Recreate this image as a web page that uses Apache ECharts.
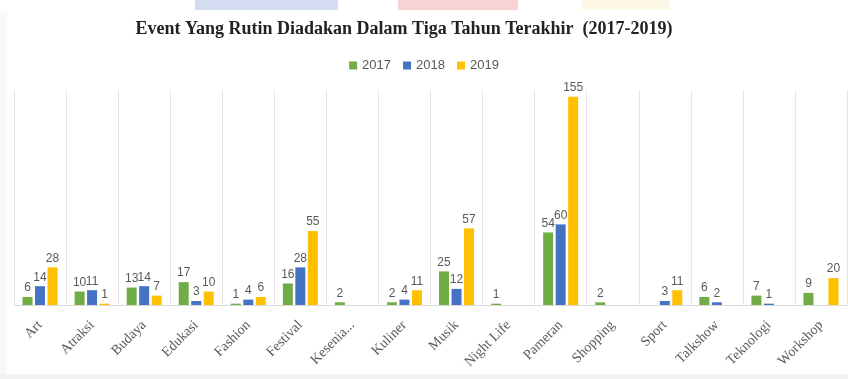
<!DOCTYPE html>
<html>
<head>
<meta charset="utf-8">
<script src="https://cdn.jsdelivr.net/npm/echarts@6/dist/echarts.min.js"></script>
<style>html,body{margin:0;padding:0;background:#fff;}#c{width:848px;height:379px;}</style>
</head>
<body>
<div id="c"></div>
<script>
var categories = ["Art","Atraksi","Budaya","Edukasi","Fashion","Festival","Kesenia...","Kuliner","Musik","Night Life","Pameran","Shopping","Sport","Talkshow","Teknologi","Workshop"];
var s2017 = [6,10,13,17,1,16,2,2,25,1,54,2,null,6,7,9];
var s2018 = [14,11,14,3,4,28,null,4,12,null,60,null,3,2,1,null];
var s2019 = [28,1,7,10,6,55,null,11,57,null,155,null,11,null,null,20];
var seriesNames = ["2017","2018","2019"];
var colors = ["#70AD47","#4472C4","#FFC000"];

var chart = echarts.init(document.getElementById('c'), null, {renderer:'canvas'});
var lbl = {show:true, position:'top', distance:3, color:'#595959', fontFamily:'Liberation Sans', fontSize:12};
function mk(name, data, col){
  return {name:name, type:'bar', data:data, barWidth:10, barGap:'25%',
    itemStyle:{color:col}, label:lbl};
}
chart.setOption({
  backgroundColor:'#ffffff',
  animation:false,
  graphic:[
    {type:'rect', shape:{x:195,y:0,width:143,height:10}, style:{fill:'#d3dcf0'}, z:-1},
    {type:'rect', shape:{x:398,y:0,width:120,height:10}, style:{fill:'#f9d3d3'}, z:-1},
    {type:'rect', shape:{x:582,y:0,width:88,height:10}, style:{fill:'#fdf8e6'}, z:-1},
    {type:'rect', shape:{x:0,y:374,width:848,height:5}, style:{fill:'#f2f2f2'}, z:-1},
    {type:'rect', shape:{x:0,y:12,width:7,height:362}, style:{fill:'#f8f8f8'}, z:-1}
  ],
  title:{text:'Event Yang Rutin Diadakan Dalam Tiga Tahun Terakhir  (2017-2019)', left:399, top:15, textAlign:'center',
    textStyle:{fontFamily:'Liberation Serif', fontWeight:'bold', fontSize:18, color:'#222'}},
  legend:{data:seriesNames, top:54, left:'center', itemWidth:8, itemHeight:8, itemGap:12, icon:'rect',
    textStyle:{fontFamily:'Liberation Sans', fontSize:13, color:'#595959'}},
  grid:{left:14, right:1, top:90, bottom:74, containLabel:false},
  xAxis:{type:'category', data:categories,
    axisLine:{lineStyle:{color:'#d9d9d9'}}, axisTick:{show:false},
    splitLine:{show:true, lineStyle:{color:'#e6e6e6'}},
    axisLabel:{rotate:45, interval:0, margin:18, color:'#595959', fontFamily:'Liberation Serif', fontSize:14}},
  yAxis:{type:'value', min:0, max:160, show:false, splitLine:{show:false}},
  series:[mk(seriesNames[0], s2017, colors[0]), mk(seriesNames[1], s2018, colors[1]), mk(seriesNames[2], s2019, colors[2])]
});
</script>
</body>
</html>
